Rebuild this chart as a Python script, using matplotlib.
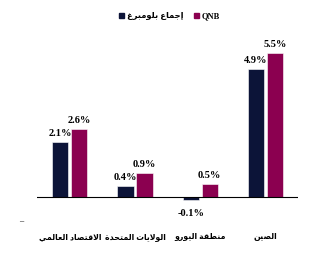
import numpy as np
import matplotlib
matplotlib.use("Agg")
import matplotlib.pyplot as plt
from matplotlib.patches import Patch

# === Daten ===
categories = ["الاقتصاد العالمي", "الولايات المتحدة", "منطقة اليورو", "الصين"]
series_names = ["إجماع بلومبرغ", "QNB"]
consensus = [2.1, 0.4, -0.1, 4.9]
qnb = [2.6, 0.9, 0.5, 5.5]

navy = "#0c1438"
maroon = "#8b0050"

# === Arabisch: einfache Formung (Präsentationsformen) + visuelle Reihenfolge ===
# Buchstabe: (isoliert, final, initial, medial) ; nur rechts verbindend -> 2 Formen
FORMS = {
    "ا": ("\uFE8D", "\uFE8E"), "أ": ("\uFE83", "\uFE84"), "إ": ("\uFE87", "\uFE88"),
    "ة": ("\uFE93", "\uFE94"), "د": ("\uFEA9", "\uFEAA"), "ر": ("\uFEAD", "\uFEAE"),
    "ز": ("\uFEAF", "\uFEB0"), "و": ("\uFEED", "\uFEEE"),
    "ب": ("\uFE8F", "\uFE90", "\uFE91", "\uFE92"), "ت": ("\uFE95", "\uFE96", "\uFE97", "\uFE98"),
    "ج": ("\uFE9D", "\uFE9E", "\uFE9F", "\uFEA0"), "ح": ("\uFEA1", "\uFEA2", "\uFEA3", "\uFEA4"),
    "ص": ("\uFEB9", "\uFEBA", "\uFEBB", "\uFEBC"), "ط": ("\uFEC1", "\uFEC2", "\uFEC3", "\uFEC4"),
    "ع": ("\uFEC9", "\uFECA", "\uFECB", "\uFECC"), "غ": ("\uFECD", "\uFECE", "\uFECF", "\uFED0"),
    "ق": ("\uFED5", "\uFED6", "\uFED7", "\uFED8"), "ك": ("\uFED9", "\uFEDA", "\uFEDB", "\uFEDC"),
    "ل": ("\uFEDD", "\uFEDE", "\uFEDF", "\uFEE0"), "م": ("\uFEE1", "\uFEE2", "\uFEE3", "\uFEE4"),
    "ن": ("\uFEE5", "\uFEE6", "\uFEE7", "\uFEE8"), "ه": ("\uFEE9", "\uFEEA", "\uFEEB", "\uFEEC"),
    "ي": ("\uFEF1", "\uFEF2", "\uFEF3", "\uFEF4"),
}


def shape_word(word):
    # Lam-Alef Ligatur
    chars = []
    i = 0
    while i < len(word):
        if word[i] == "ل" and i + 1 < len(word) and word[i + 1] == "ا":
            chars.append("LA")
            i += 2
        else:
            chars.append(word[i])
            i += 1
    out = []
    for k, c in enumerate(chars):
        prev = chars[k - 1] if k > 0 else None
        nxt = chars[k + 1] if k + 1 < len(chars) else None
        join_prev = prev is not None and prev != "LA" and prev in FORMS and len(FORMS[prev]) == 4
        if c == "LA":
            out.append("\uFEFC" if join_prev else "\uFEFB")
            continue
        f = FORMS.get(c)
        if f is None:
            out.append(c)
            continue
        join_next = len(f) == 4 and nxt is not None and (nxt == "LA" or nxt in FORMS)
        if join_prev and join_next:
            out.append(f[3])
        elif join_prev:
            out.append(f[1])
        elif join_next:
            out.append(f[2])
        else:
            out.append(f[0])
    return "".join(out)[::-1]


def ar(text):
    return " ".join(shape_word(w) for w in text.split(" ")[::-1])


# === Plot ===
plt.rcParams["font.family"] = ["Liberation Serif", "DejaVu Sans"]
plt.rcParams["font.weight"] = "bold"

fig = plt.figure(figsize=(3.23, 2.57), dpi=100)
ax = fig.add_axes([0.115, 0.132, 0.808, 0.712])

x = np.arange(len(categories))
w = 0.25
off = 0.145
b1 = ax.bar(x - off, consensus, w, color=navy, edgecolor="white", linewidth=0.4)
b2 = ax.bar(x + off, qnb, w, color=maroon, edgecolor="white", linewidth=0.4)

for bars, vals in ((b1, consensus), (b2, qnb)):
    for rect, v in zip(bars, vals):
        cx = rect.get_x() + rect.get_width() / 2
        if v >= 0:
            ax.annotate(f"{v:.1f}%", (cx, v), xytext=(0, 3), textcoords="offset points",
                        ha="center", va="bottom", fontsize=7.5, fontweight="bold")
        else:
            ax.annotate(f"{v:.1f}%", (cx, v), xytext=(0, -7), textcoords="offset points",
                        ha="center", va="top", fontsize=7.5, fontweight="bold")

ax.axhline(0, color="black", linewidth=0.8)
ax.set_xlim(-0.5, 3.5)
ax.set_ylim(-1.0, 6.0)
ax.set_xticks(x)
ax.set_xticklabels([ar(c) for c in categories], fontsize=5.6, fontweight="bold")
ax.tick_params(axis="x", length=0, pad=7.5)
ax.set_yticks([])
for s in ax.spines.values():
    s.set_visible(False)

handles = [Patch(color=navy), Patch(color=maroon)]
fig.legend(handles, [ar(series_names[0]), series_names[1]], loc="center",
           bbox_to_anchor=(0.525, 0.937), ncol=2, frameon=False,
           fontsize=6, handlelength=0.6, handleheight=0.6,
           handletextpad=0.4, columnspacing=1.2)

fig.text(0.065, 0.138, "–", color="#444444", fontsize=6, ha="center", va="center")

plt.savefig("out.png", dpi=100)
